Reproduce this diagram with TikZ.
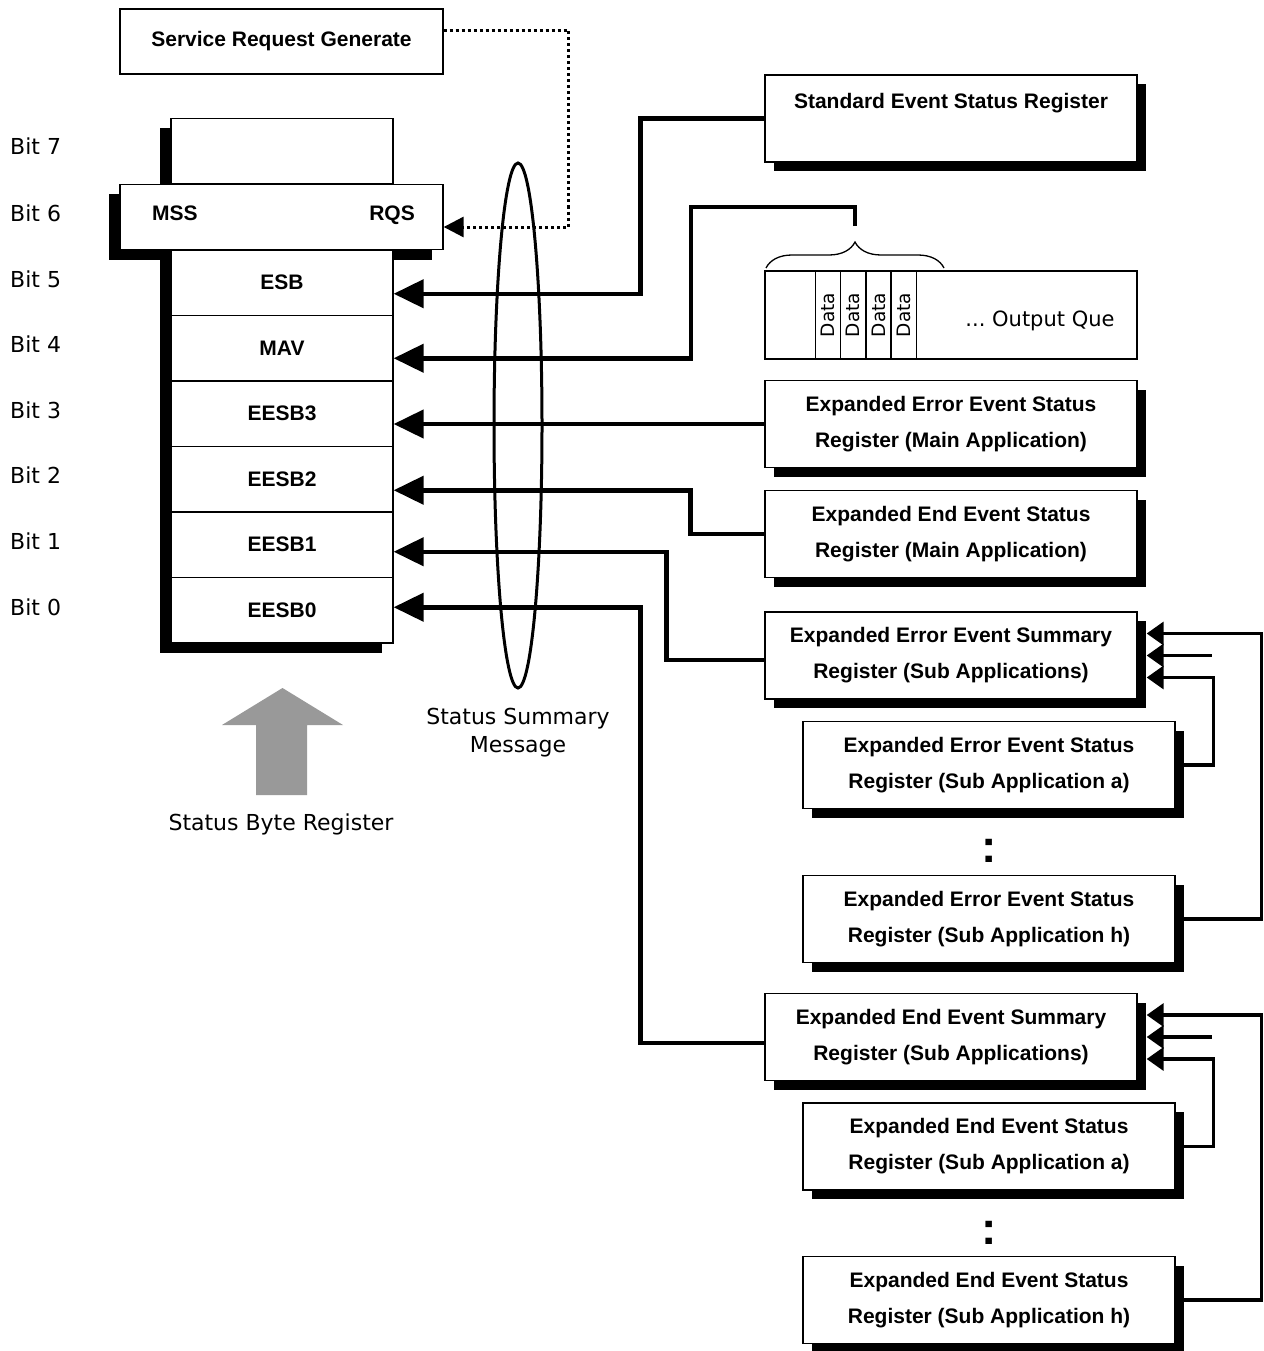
\documentclass[tikz,border=0pt]{standalone}
\usepackage{fontspec}
\setmainfont{Liberation Sans}
\newfontfamily\plainfont{DejaVu Sans}
\definecolor{ArrowGray}{HTML}{999999}
\usetikzlibrary{arrows.meta,positioning,shapes.geometric,shadows,decorations.pathreplacing}

\begin{document}
\begin{tikzpicture}[
    x=1pt, y=-1pt,
    regbox/.style={
      draw=black,
      line width=1.3pt,
      fill=white,
      minimum width=372pt,
      minimum height=87pt,
      inner sep=0pt,
      align=center,
      font=\fontsize{21}{36}\selectfont\bfseries,
      drop shadow={shadow xshift=9pt, shadow yshift=-9pt, fill=black, opacity=1}
    },
    bitcell/.style={
      draw=black,
      line width=1.3pt,
      fill=white,
      minimum width=222pt,
      minimum height=65.5pt,
      inner sep=0pt,
      font=\fontsize{21}{25}\selectfont\bfseries,
      drop shadow={shadow xshift=-11pt, shadow yshift=-10pt, fill=black, opacity=1}
    },
    datacell/.style={
      draw=black,
      line width=1.3pt,
      rotate=90,
      minimum width=88pt,
      minimum height=25.2pt,
      inner sep=0pt,
      font=\plainfont\fontsize{18.5}{20}\selectfont
    },
    plainlbl/.style={font=\plainfont\fontsize{22}{28}\selectfont, inner sep=0pt, align=center},
    boldlbl/.style={font=\fontsize{21}{25}\selectfont\bfseries, inner sep=0pt, text height=15pt, text depth=0pt},
    colon/.style={font=\fontsize{46}{46}\selectfont\bfseries, inner sep=0pt},
    bus/.style={line width=4.5pt, -{Triangle[length=30pt,width=28pt]}},
    feed/.style={line width=3.5pt, -{Triangle[length=17pt,width=23pt]}},
    srq/.style={line width=3pt, dash pattern=on 3pt off 3pt, -{Triangle[length=20pt,width=20pt]}}
  ]
  \fill[white] (0,0) rectangle (1263,1351);
  \useasboundingbox (0,0) rectangle (1263,1351);

  % service request and status byte register
  \node[draw=black, line width=1.3pt, minimum width=323pt, minimum height=65pt,
    inner sep=0pt, font=\fontsize{21}{25}\selectfont\bfseries] (srg) at (281.5,41.5) {Service Request Generate};
  \node[bitcell] (bit7) at (282,151) {};
  \node[bitcell, minimum width=323pt] (mss) at (281.5,217) {};
  \node[boldlbl] (msstxt) at (175,213) {MSS};
  \node[boldlbl] (rqstxt) at (392,213) {RQS};
  \foreach \name/\txt [count=\i from 0] in {esb/ESB,mav/MAV,eesb3/EESB3,eesb2/EESB2,eesb1/EESB1,eesb0/EESB0}
    \node[bitcell] (\name) at (282,282.75+65.5*\i) {\txt};
  \foreach \b/\yy in {7/146,6/213,5/279,4/344,3/410,2/475,1/541,0/607}
    \node[plainlbl, anchor=west] (bitno\b) at (10,\yy) {Bit \b};

  \fill[ArrowGray] (256,795) -- (256,725) -- (222,725) -- (282.5,688) -- (343,725) -- (307,725) -- (307,795) -- cycle;
  \node[plainlbl] (sbrtxt) at (281,824) {Status Byte Register};

  % summary message
  \node[draw=black, ellipse, line width=3pt, minimum width=48pt, minimum height=525pt, inner sep=0pt] (ssm) at (518,425.5) {};
  \node[plainlbl, below=18pt of ssm] (ssmtxt) {Status Summary\\Message};

  % registers on the right
  \node[regbox] (sesr) at (951,118.5) {Standard Event Status Register\\\mbox{}};
  \node[draw=black, line width=1.3pt, minimum width=372pt, minimum height=88pt, inner sep=0pt] (outq) at (951,315) {};
  \foreach \i in {0,...,3}
    \node[datacell] (data\i) at (828.1+25.2*\i,315) {Data};
  \node[plainlbl, font=\plainfont\fontsize{21}{25}\selectfont] (outqtxt) at (1040,321) {...~Output~Que};
  \draw[line width=1.3pt, decorate, decoration={brace, amplitude=26pt}] (766,268) -- (944,268);
  \coordinate (qtop) at (855,226);

  \node[regbox] (eesm) at (951,424) {Expanded Error Event Status\\Register (Main Application)};
  \node[regbox] (eedm) at (951,534) {Expanded End Event Status\\Register (Main Application)};
  \node[regbox] (eesum) at (951,655.5) {Expanded Error Event Summary\\Register (Sub Applications)};
  \node[regbox] (eesa) at (989,765) {Expanded Error Event Status\\Register (Sub Application a)};
  \node[colon] (vdotsa) at (989,851) {:};
  \node[regbox] (eesh) at (989,919) {Expanded Error Event Status\\Register (Sub Application h)};
  \node[regbox] (edsum) at (951,1037) {Expanded End Event Summary\\Register (Sub Applications)};
  \node[regbox] (edsa) at (989,1146.5) {Expanded End Event Status\\Register (Sub Application a)};
  \node[colon] (vdotsb) at (989,1233) {:};
  \node[regbox] (edsh) at (989,1300) {Expanded End Event Status\\Register (Sub Application h)};

  % connectors into the status byte
  \draw[srq] ([yshift=11pt]srg.east) -| ([xshift=125pt,yshift=-10pt]mss.east) -- ([yshift=-10pt]mss.east);
  \draw[bus] (sesr.west) -- ++(-124,0) |- ([yshift=-11pt]esb.east);
  \draw[bus] (qtop) |- (691,207) |- ([yshift=-10pt]mav.east);
  \draw[bus] (eesm.west) -- (eesm.west -| eesb3.east);
  \draw[bus] (eedm.west) -- ++(-74,0) |- ([yshift=-11pt]eesb2.east);
  \draw[bus] ([yshift=-4.5pt]eesum.west) -- ++(-98,0) |- ([yshift=-7pt]eesb1.east);
  \draw[bus] ([yshift=-6pt]edsum.west) -- ++(-124,0) |- ([yshift=3pt]eesb0.east);

  % sub application inputs
  \coordinate (stuba) at ([xshift=74pt]eesum.east);
  \draw[feed] (eesh.east) -- ++(86,0) |- ([xshift=9pt,yshift=22pt]eesum.east);
  \draw[feed] (stuba) -- ([xshift=9pt]eesum.east);
  \draw[feed] (eesa.east) -- ++(38,0) |- ([xshift=9pt,yshift=-22pt]eesum.east);
  \coordinate (stubb) at ([xshift=74pt]edsum.east);
  \draw[feed] (edsh.east) -- ++(86,0) |- ([xshift=9pt,yshift=22pt]edsum.east);
  \draw[feed] (stubb) -- ([xshift=9pt]edsum.east);
  \draw[feed] (edsa.east) -- ++(38,0) |- ([xshift=9pt,yshift=-22pt]edsum.east);
\end{tikzpicture}
\end{document}
